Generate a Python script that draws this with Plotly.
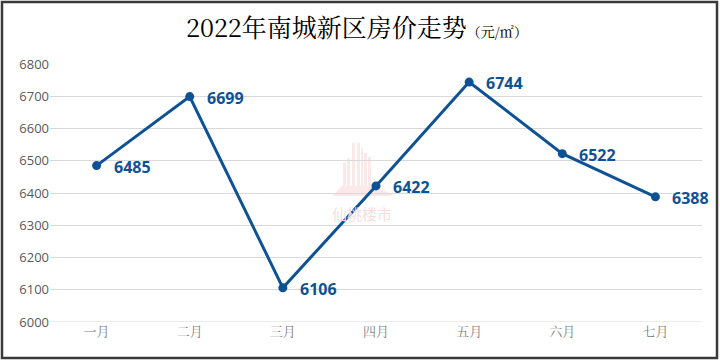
import plotly.graph_objects as go

months = ["一月", "二月", "三月", "四月", "五月", "六月", "七月"]
prices = [6485, 6699, 6106, 6422, 6744, 6522, 6388]
y_ticks = [6000, 6100, 6200, 6300, 6400, 6500, 6600, 6700, 6800]

blue = "#0e5296"

fig = go.Figure()
fig.add_trace(go.Scatter(
    x=months, y=prices, mode="lines+markers",
    line=dict(color=blue, width=3),
    marker=dict(color=blue, size=9),
    cliponaxis=False,
    hoverinfo="x+y",
))

W, H = 720, 361
L, R, T, B = 50, 18, 64, 39
pw, ph = W - L - R, H - T - B

def px(x):
    return (x - L) / pw

def py(y):
    return (H - B - y) / ph

annotations = [
    dict(x=m, y=p, xref="x", yref="y", text=str(p), showarrow=False,
         xanchor="left", yanchor="middle", xshift=15, yshift=-1,
         font=dict(family="Noto Sans, Open Sans, sans-serif", size=16, color=blue, weight="bold"))
    for m, p in zip(months, prices)
]
annotations += [
    dict(xref="paper", yref="paper", x=px(357), y=py(26), xanchor="center", yanchor="middle",
         showarrow=False,
         text="<span style='font-size:25px'>2022年南城新区房价走势</span><span style='font-size:14px'>（元/㎡）</span>",
         font=dict(family="Noto Serif CJK SC, Liberation Serif, Noto Sans CJK SC", size=25, color="#000000")),
    dict(xref="paper", yref="paper", x=px(362), y=py(214), xanchor="center", yanchor="middle",
         showarrow=False, text="仙桃楼市",
         font=dict(family="Noto Sans CJK SC", size=15, color="#f6dede")),
]

wm = "rgba(235,150,150,0.22)"
def wrect(x0, y0, x1, y1):
    return dict(type="rect", xref="paper", yref="paper", x0=px(x0), x1=px(x1),
                y0=py(y1), y1=py(y0), fillcolor=wm, line=dict(width=0), layer="below")

shapes = [
    dict(type="line", xref="paper", yref="y", x0=0, x1=1, y0=6000, y1=6000,
         line=dict(color="#d9d9d9", width=1), layer="below"),
    wrect(352, 143, 355, 186), wrect(357, 143, 360, 186), wrect(361, 148, 363, 186),
    wrect(343, 162, 346, 186), wrect(347, 158, 350, 186),
    wrect(364, 153, 367, 186), wrect(368, 157, 371, 186),
    dict(type="path", xref="paper", yref="paper",
         path=f"M {px(332)},{py(196)} L {px(395)},{py(196)} L {px(375)},{py(186)} L {px(342)},{py(186)} Z",
         fillcolor=wm, line=dict(width=0), layer="below"),
    dict(type="rect", xref="paper", yref="paper",
         x0=px(2), x1=px(717), y0=py(358), y1=py(2),
         line=dict(color="#3a3a3a", width=2.5), layer="above"),
]

fig.update_layout(
    width=W, height=H,
    margin=dict(l=L, r=R, t=T, b=B),
    paper_bgcolor="white", plot_bgcolor="white",
    showlegend=False,
    xaxis=dict(
        type="category", showgrid=False, zeroline=False, showline=False,
        ticks="", tickfont=dict(family="Noto Serif CJK SC, Noto Sans CJK SC", size=13, color="#7f7f7f"),
        range=[-0.5, 6.5],
    ),
    yaxis=dict(
        range=[6000, 6800], tickvals=y_ticks, ticktext=[str(v) for v in y_ticks],
        showgrid=True, gridcolor="#d9d9d9", gridwidth=1,
        zeroline=False, showline=False, ticks="",
        tickfont=dict(family="Open Sans, sans-serif", size=13, color="#595959"),
    ),
    shapes=shapes,
    annotations=annotations,
)

fig.write_html("out.html", config={"displayModeBar": False},
               post_script="document.body.style.margin='0';document.body.style.padding='0';")
